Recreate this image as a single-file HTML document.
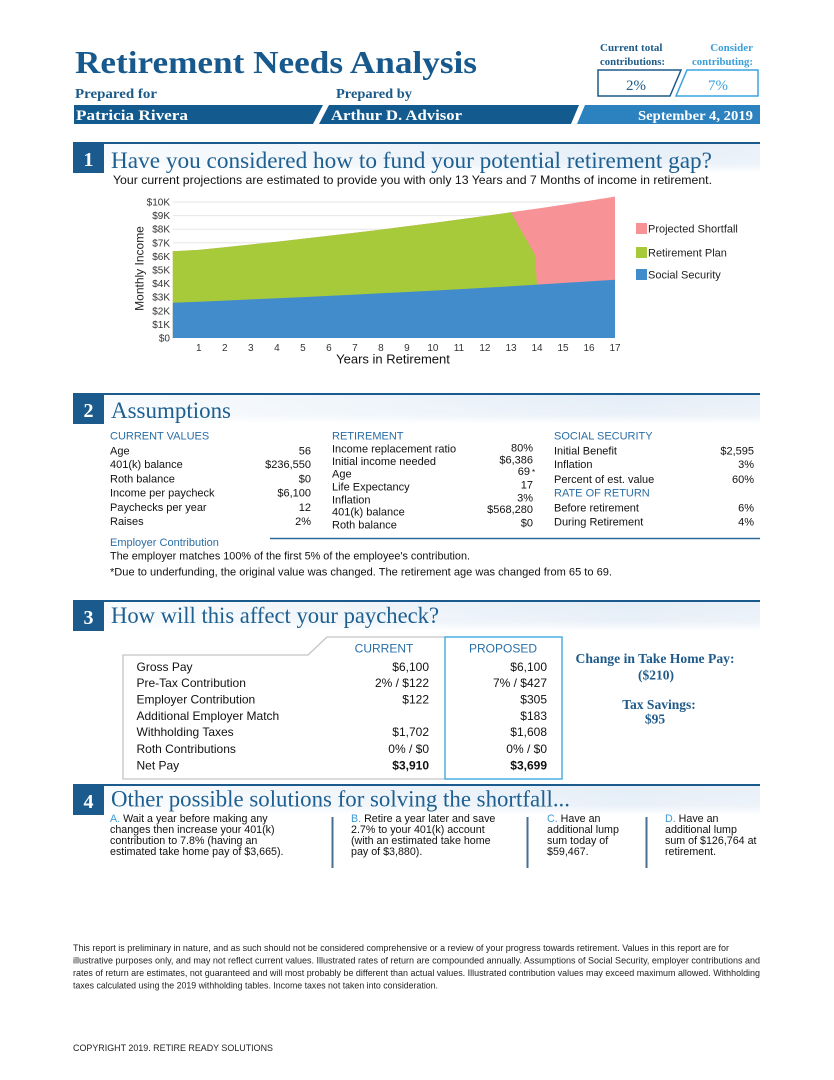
<!DOCTYPE html>
<html>
<head>
<meta charset="utf-8">
<style>
html,body{margin:0;padding:0;background:#fff;}
svg{display:block;}
.s{font-family:"Liberation Sans",Arial,sans-serif;}
.r{font-family:"Liberation Serif","Times New Roman",serif;}
</style>
</head>
<body>
<svg width="834" height="1080" viewBox="0 0 834 1080" xmlns="http://www.w3.org/2000/svg">
<defs>
  <linearGradient id="band" x1="0" y1="0" x2="1" y2="0">
    <stop offset="0" stop-color="#f8fbfd"/>
    <stop offset="0.8" stop-color="#e4edf7"/>
    <stop offset="1" stop-color="#e9f0f8"/>
  </linearGradient>
  <linearGradient id="bandv" x1="0" y1="0" x2="0" y2="1">
    <stop offset="0" stop-color="#ffffff" stop-opacity="0"/>
    <stop offset="0.7" stop-color="#ffffff" stop-opacity="0.2"/>
    <stop offset="1" stop-color="#ffffff" stop-opacity="0.9"/>
  </linearGradient>
</defs>
<rect width="834" height="1080" fill="#fff"/>

<!-- HEADER -->
<text class="r" x="75" y="73" font-size="32" font-weight="bold" fill="#17598d" textLength="402" lengthAdjust="spacingAndGlyphs">Retirement Needs Analysis</text>
<text class="r" x="75" y="98" font-size="13.5" font-weight="bold" fill="#1a5a8a" textLength="82" lengthAdjust="spacingAndGlyphs">Prepared for</text>
<text class="r" x="336" y="98" font-size="13.5" font-weight="bold" fill="#1a5a8a" textLength="76" lengthAdjust="spacingAndGlyphs">Prepared by</text>

<polygon points="74,105 323,105 313,124 74,124" fill="#135b8e"/>
<polygon points="329,105 579,105 571,124 319,124" fill="#135b8e"/>
<polygon points="585,105 760,105 760,124 577,124" fill="#2b82bf"/>
<text class="r" x="76" y="120" font-size="15" font-weight="bold" fill="#fff" textLength="112" lengthAdjust="spacingAndGlyphs">Patricia Rivera</text>
<text class="r" x="331" y="120" font-size="15" font-weight="bold" fill="#fff" textLength="131" lengthAdjust="spacingAndGlyphs">Arthur D. Advisor</text>
<text class="r" x="753" y="120" font-size="14" font-weight="bold" fill="#fff" text-anchor="end" textLength="115" lengthAdjust="spacingAndGlyphs">September 4, 2019</text>

<text class="r" x="600" y="51" font-size="11" font-weight="bold" fill="#1d5b8a">Current total</text>
<text class="r" x="600" y="65" font-size="11" font-weight="bold" fill="#1d5b8a" textLength="65" lengthAdjust="spacingAndGlyphs">contributions:</text>
<text class="r" x="753" y="51" font-size="11" font-weight="bold" fill="#3a9fd9" text-anchor="end">Consider</text>
<text class="r" x="753" y="65" font-size="11" font-weight="bold" fill="#3a9fd9" text-anchor="end" textLength="61" lengthAdjust="spacingAndGlyphs">contributing:</text>
<polygon points="598,70 681,70 670,96 598,96" fill="#fff" stroke="#1c5a89" stroke-width="1.5"/>
<polygon points="687,70 758,70 758,96 676,96" fill="#fff" stroke="#3aa3df" stroke-width="1.5"/>
<text class="r" x="636" y="90" font-size="15" fill="#1c5a89" text-anchor="middle">2%</text>
<text class="r" x="718" y="90" font-size="15" fill="#3aa3df" text-anchor="middle">7%</text>

<!-- SECTION 1 -->
<rect x="104" y="143" width="656" height="29" fill="url(#band)"/>
<rect x="104" y="143" width="656" height="29" fill="url(#bandv)"/>
<line x1="73" y1="143" x2="760" y2="143" stroke="#1a5a8c" stroke-width="2"/>
<rect x="73" y="143" width="31" height="30" fill="#1a5a8c"/>
<text class="r" x="88.5" y="166" font-size="20" font-weight="bold" fill="#fff" text-anchor="middle">1</text>
<text class="r" x="111" y="168" font-size="23" fill="#1d5f90" textLength="601" lengthAdjust="spacingAndGlyphs">Have you considered how to fund your potential retirement gap?</text>
<text class="s" x="113" y="184" font-size="12" fill="#111" textLength="599" lengthAdjust="spacingAndGlyphs">Your current projections are estimated to provide you with only 13 Years and 7 Months of income in retirement.</text>

<!-- gridlines -->
<g stroke="#e6e6e6" stroke-width="1">
<line x1="173" y1="202" x2="615" y2="202"/>
<line x1="173" y1="215.6" x2="615" y2="215.6"/>
<line x1="173" y1="229.2" x2="615" y2="229.2"/>
<line x1="173" y1="242.8" x2="615" y2="242.8"/>
<line x1="173" y1="256.4" x2="615" y2="256.4"/>
<line x1="173" y1="270" x2="615" y2="270"/>
<line x1="173" y1="283.6" x2="615" y2="283.6"/>
<line x1="173" y1="297.2" x2="615" y2="297.2"/>
<line x1="173" y1="310.8" x2="615" y2="310.8"/>
<line x1="173" y1="324.4" x2="615" y2="324.4"/>
</g>
<polygon fill="#f79296" points="172.8,338 172.8,251.2 198.8,249.9 224.8,247.2 250.8,244.5 276.9,241.7 302.9,238.8 328.9,235.8 354.9,232.8 380.9,229.6 406.9,226.3 432.9,223.0 458.9,219.5 484.9,216.0 511.0,212.3 537.0,208.6 563.0,204.7 589.0,200.7 615.0,196.6 615,338"/>
<polygon fill="#a6ca3a" points="172.8,338 172.8,251.2 198.8,249.9 224.8,247.2 250.8,244.5 276.9,241.7 302.9,238.8 328.9,235.8 354.9,232.8 380.9,229.6 406.9,226.3 432.9,223.0 458.9,219.5 484.9,216.0 511.0,212.3 535,255 537,284.6 537,338"/>
<polygon fill="#438ccb" points="172.8,338 172.8,302.7 198.8,301.7 224.8,300.6 250.8,299.4 276.9,298.3 302.9,297.1 328.9,295.9 354.9,294.6 380.9,293.3 406.9,292.0 432.9,290.6 458.9,289.2 484.9,287.7 511.0,286.2 537.0,284.6 563.0,283.0 589.0,281.4 615.0,279.7 615,338"/>

<g class="s" font-size="10" fill="#333" text-anchor="end">
<text x="170" y="205.5">$10K</text>
<text x="170" y="219.1">$9K</text>
<text x="170" y="232.7">$8K</text>
<text x="170" y="246.3">$7K</text>
<text x="170" y="259.9">$6K</text>
<text x="170" y="273.5">$5K</text>
<text x="170" y="287.1">$4K</text>
<text x="170" y="300.7">$3K</text>
<text x="170" y="314.3">$2K</text>
<text x="170" y="327.9">$1K</text>
<text x="170" y="341.5">$0</text>
</g>
<g class="s" font-size="10" fill="#333" text-anchor="middle">
<text x="198.8" y="351">1</text>
<text x="224.8" y="351">2</text>
<text x="250.8" y="351">3</text>
<text x="276.9" y="351">4</text>
<text x="302.9" y="351">5</text>
<text x="328.9" y="351">6</text>
<text x="354.9" y="351">7</text>
<text x="380.9" y="351">8</text>
<text x="406.9" y="351">9</text>
<text x="432.9" y="351">10</text>
<text x="458.9" y="351">11</text>
<text x="484.9" y="351">12</text>
<text x="511.0" y="351">13</text>
<text x="537.0" y="351">14</text>
<text x="563.0" y="351">15</text>
<text x="589.0" y="351">16</text>
<text x="615.0" y="351">17</text>
</g>
<text class="s" x="393" y="363.5" font-size="13" fill="#111" text-anchor="middle">Years in Retirement</text>
<text class="s" x="0" y="0" font-size="12" fill="#222" text-anchor="middle" transform="translate(143.5,268.5) rotate(-90)">Monthly Income</text>

<rect x="636" y="223" width="11" height="11" fill="#f79296"/>
<rect x="636" y="247" width="11" height="11" fill="#a6ca3a"/>
<rect x="636" y="269" width="11" height="11" fill="#438ccb"/>
<g class="s" font-size="11" fill="#222">
<text x="648" y="232.5">Projected Shortfall</text>
<text x="648" y="256.5">Retirement Plan</text>
<text x="648" y="278.5">Social Security</text>
</g>

<!-- SECTION 2 -->
<rect x="104" y="394" width="656" height="29" fill="url(#band)"/>
<rect x="104" y="394" width="656" height="29" fill="url(#bandv)"/>
<line x1="73" y1="394" x2="760" y2="394" stroke="#1a5a8c" stroke-width="2"/>
<rect x="73" y="394" width="31" height="30" fill="#1a5a8c"/>
<text class="r" x="88.5" y="417" font-size="20" font-weight="bold" fill="#fff" text-anchor="middle">2</text>
<text class="r" x="111" y="418" font-size="23" fill="#1d5f90" textLength="120" lengthAdjust="spacingAndGlyphs">Assumptions</text>

<g class="s" font-size="11">
<text x="110" y="439.7" fill="#2a6ea6">CURRENT VALUES</text>
<g fill="#111">
<text x="110" y="454.5">Age</text>
<text x="110" y="468">401(k) balance</text>
<text x="110" y="482.5">Roth balance</text>
<text x="110" y="496.5">Income per paycheck</text>
<text x="110" y="511">Paychecks per year</text>
<text x="110" y="525">Raises</text>
</g>
<g fill="#111" text-anchor="end">
<text x="311" y="454.5">56</text>
<text x="311" y="468">$236,550</text>
<text x="311" y="482.5">$0</text>
<text x="311" y="496.5">$6,100</text>
<text x="311" y="511">12</text>
<text x="311" y="525">2%</text>
</g>

<text x="332" y="439.7" fill="#2a6ea6">RETIREMENT</text>
<g fill="#111">
<text x="332" y="452.3">Income replacement ratio</text>
<text x="332" y="465">Initial income needed</text>
<text x="332" y="477.3">Age</text>
<text x="332" y="490.7">Life Expectancy</text>
<text x="332" y="503.3">Inflation</text>
<text x="332" y="515.7">401(k) balance</text>
<text x="332" y="528.3">Roth balance</text>
</g>
<g fill="#111" text-anchor="end">
<text x="533" y="451.3">80%</text>
<text x="533" y="463.3">$6,386</text>
<text x="530" y="475">69</text>
<text x="533" y="488.3">17</text>
<text x="533" y="501.3">3%</text>
<text x="533" y="513">$568,280</text>
<text x="533" y="526.3">$0</text>
</g>
<text x="532" y="475" font-size="8" fill="#111">*</text>

<text x="554" y="439.7" fill="#2a6ea6">SOCIAL SECURITY</text>
<text x="554" y="496.7" fill="#2a6ea6">RATE OF RETURN</text>
<g fill="#111">
<text x="554" y="454.7">Initial Benefit</text>
<text x="554" y="468">Inflation</text>
<text x="554" y="483">Percent of est. value</text>
<text x="554" y="511.3">Before retirement</text>
<text x="554" y="525.7">During Retirement</text>
</g>
<g fill="#111" text-anchor="end">
<text x="754" y="454.7">$2,595</text>
<text x="754" y="468">3%</text>
<text x="754" y="483">60%</text>
<text x="754" y="511.3">6%</text>
<text x="754" y="525.7">4%</text>
</g>
</g>
<line x1="270" y1="538.5" x2="760" y2="538.5" stroke="#2e6a9a" stroke-width="1.5"/>
<text class="s" x="110" y="546" font-size="11" fill="#2a6ea6">Employer Contribution</text>
<text class="s" x="110" y="559.5" font-size="11" fill="#111" textLength="360" lengthAdjust="spacingAndGlyphs">The employer matches 100% of the first 5% of the employee's contribution.</text>
<text class="s" x="110" y="575.5" font-size="11" fill="#111" textLength="502" lengthAdjust="spacingAndGlyphs">*Due to underfunding, the original value was changed. The retirement age was changed from 65 to 69.</text>

<!-- SECTION 3 -->
<rect x="104" y="601" width="656" height="29" fill="url(#band)"/>
<rect x="104" y="601" width="656" height="29" fill="url(#bandv)"/>
<line x1="73" y1="601" x2="760" y2="601" stroke="#1a5a8c" stroke-width="2"/>
<rect x="73" y="601" width="31" height="30" fill="#1a5a8c"/>
<text class="r" x="88.5" y="624" font-size="20" font-weight="bold" fill="#fff" text-anchor="middle">3</text>
<text class="r" x="111" y="623" font-size="23" fill="#1d5f90" textLength="328" lengthAdjust="spacingAndGlyphs">How will this affect your paycheck?</text>

<polyline points="445,779 123,779 123,655 308,655 327,637 445,637" fill="none" stroke="#c4c4c4" stroke-width="1.3"/>
<rect x="445" y="637" width="117" height="142" fill="none" stroke="#4ab0e0" stroke-width="1.5"/>
<g class="s" font-size="12">
<text x="384" y="652.5" fill="#2a6ea6" text-anchor="middle">CURRENT</text>
<text x="503" y="652.5" fill="#2a6ea6" text-anchor="middle">PROPOSED</text>
<g fill="#111">
<text x="136.5" y="671">Gross Pay</text>
<text x="136.5" y="687">Pre-Tax Contribution</text>
<text x="136.5" y="703.5">Employer Contribution</text>
<text x="136.5" y="720">Additional Employer Match</text>
<text x="136.5" y="736">Withholding Taxes</text>
<text x="136.5" y="753">Roth Contributions</text>
<text x="136.5" y="769.5">Net Pay</text>
</g>
<g fill="#111" text-anchor="end">
<text x="429" y="671">$6,100</text>
<text x="429" y="687">2% / $122</text>
<text x="429" y="703.5">$122</text>
<text x="429" y="736">$1,702</text>
<text x="429" y="753">0% / $0</text>
<text x="429" y="769.5" font-weight="bold">$3,910</text>
<text x="547" y="671">$6,100</text>
<text x="547" y="687">7% / $427</text>
<text x="547" y="703.5">$305</text>
<text x="547" y="720">$183</text>
<text x="547" y="736">$1,608</text>
<text x="547" y="753">0% / $0</text>
<text x="547" y="769.5" font-weight="bold">$3,699</text>
</g>
</g>
<g class="r" font-size="13.5" font-weight="bold" fill="#1f5a8a" text-anchor="middle">
<text x="655" y="663" textLength="159" lengthAdjust="spacingAndGlyphs">Change in Take Home Pay:</text>
<text x="656" y="679.5">($210)</text>
<text x="659" y="709">Tax Savings:</text>
<text x="655" y="723.5">$95</text>
</g>

<!-- SECTION 4 -->
<rect x="104" y="785" width="656" height="29" fill="url(#band)"/>
<rect x="104" y="785" width="656" height="29" fill="url(#bandv)"/>
<line x1="73" y1="785" x2="760" y2="785" stroke="#1a5a8c" stroke-width="2"/>
<rect x="73" y="785" width="31" height="30" fill="#1a5a8c"/>
<text class="r" x="88.5" y="808" font-size="20" font-weight="bold" fill="#fff" text-anchor="middle">4</text>
<text class="r" x="111" y="806.5" font-size="23" fill="#1d5f90" textLength="459" lengthAdjust="spacingAndGlyphs">Other possible solutions for solving the shortfall...</text>

<g stroke="#4a6f90" stroke-width="2">
<line x1="332.5" y1="817" x2="332.5" y2="868"/>
<line x1="527.5" y1="817" x2="527.5" y2="868"/>
<line x1="646.5" y1="817" x2="646.5" y2="868"/>
</g>
<g class="s" font-size="10.7" fill="#111">
<text x="110" y="822"><tspan fill="#3c9ad6">A.</tspan> Wait a year before making any</text>
<text x="110" y="833">changes then increase your 401(k)</text>
<text x="110" y="844">contribution to 7.8% (having an</text>
<text x="110" y="855">estimated take home pay of $3,665).</text>
<text x="351" y="822"><tspan fill="#3c9ad6">B.</tspan> Retire a year later and save</text>
<text x="351" y="833">2.7% to your 401(k) account</text>
<text x="351" y="844">(with an estimated take home</text>
<text x="351" y="855">pay of $3,880).</text>
<text x="547" y="822"><tspan fill="#3c9ad6">C.</tspan> Have an</text>
<text x="547" y="833">additional lump</text>
<text x="547" y="844">sum today of</text>
<text x="547" y="855">$59,467.</text>
<text x="665" y="822"><tspan fill="#3c9ad6">D.</tspan> Have an</text>
<text x="665" y="833">additional lump</text>
<text x="665" y="844">sum of $126,764 at</text>
<text x="665" y="855">retirement.</text>
</g>

<!-- FOOTER -->
<g class="s" font-size="9.5" fill="#222">
<text x="73" y="951" textLength="656" lengthAdjust="spacingAndGlyphs">This report is preliminary in nature, and as such should not be considered comprehensive or a review of your progress towards retirement. Values in this report are for</text>
<text x="73" y="963.5" textLength="687" lengthAdjust="spacingAndGlyphs">illustrative purposes only, and may not reflect current values.  Illustrated rates of return are compounded annually. Assumptions of Social Security, employer contributions and</text>
<text x="73" y="976" textLength="687" lengthAdjust="spacingAndGlyphs">rates of return are estimates, not guaranteed and will most probably be different than actual values. Illustrated contribution values may exceed maximum allowed. Withholding</text>
<text x="73" y="988.5" textLength="365" lengthAdjust="spacingAndGlyphs">taxes calculated using the 2019 withholding tables. Income taxes not taken into consideration.</text>
<text x="73" y="1051" textLength="200" lengthAdjust="spacingAndGlyphs">COPYRIGHT 2019. RETIRE READY SOLUTIONS</text>
</g>
</svg>
</body>
</html>
